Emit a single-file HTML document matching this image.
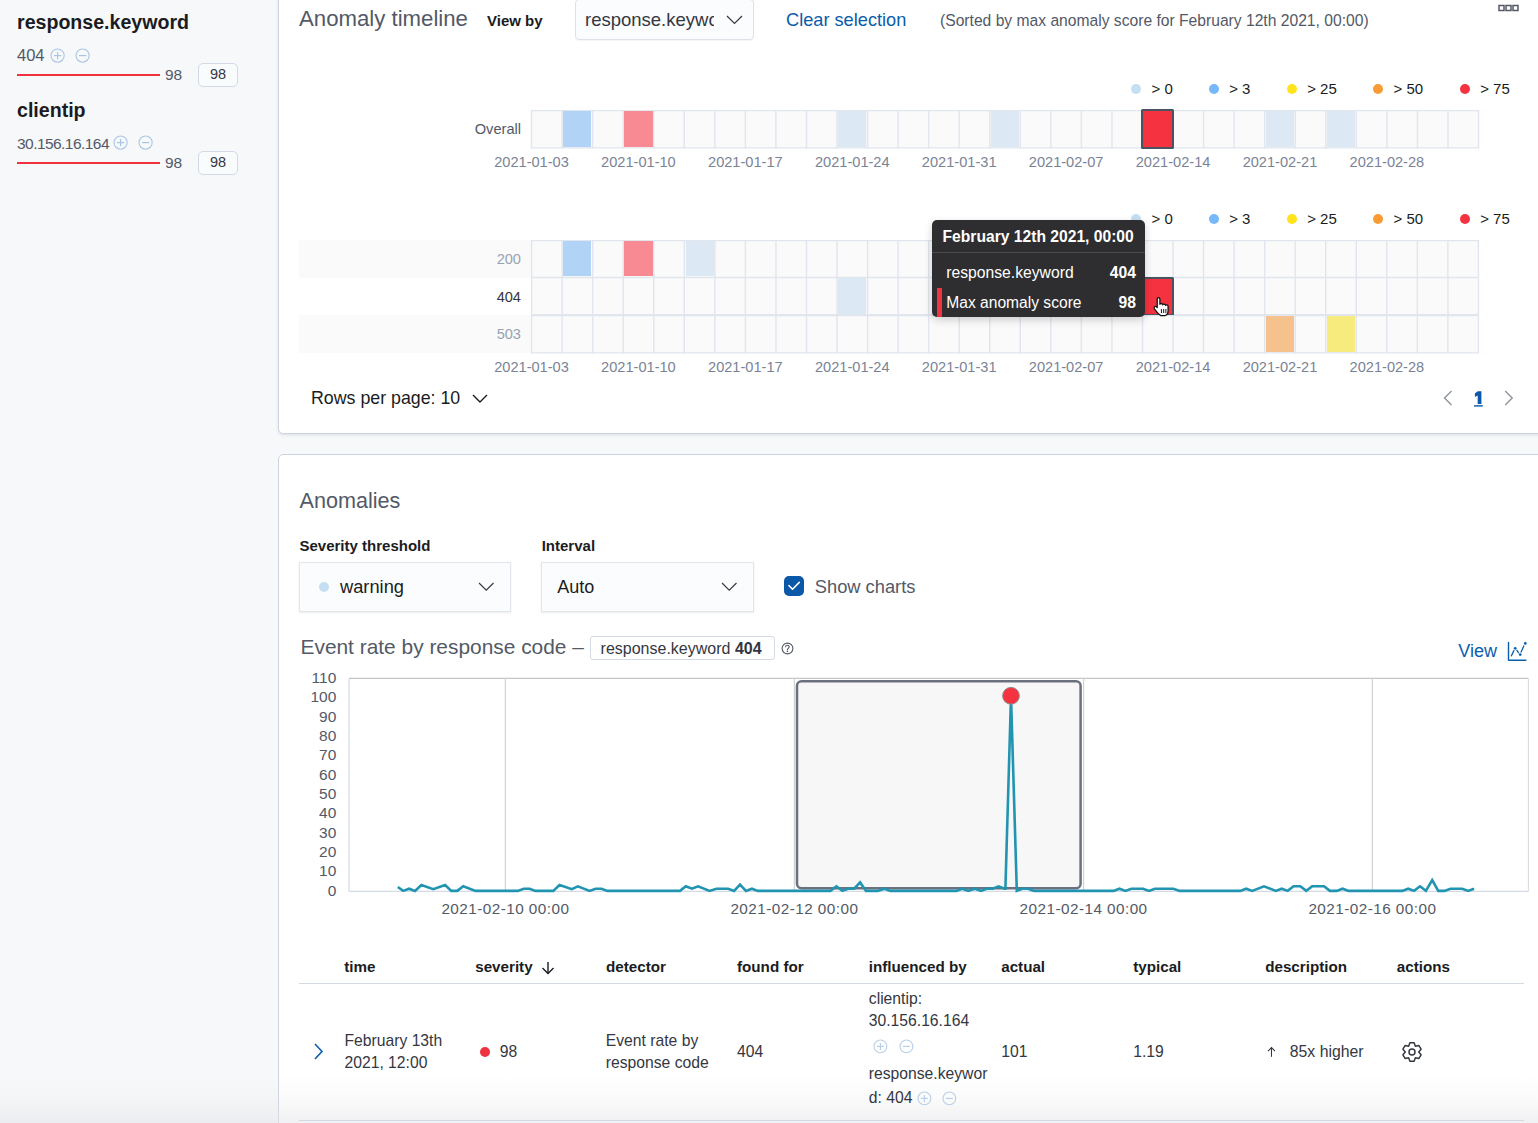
<!DOCTYPE html>
<html><head><meta charset="utf-8"><title>Anomaly Explorer</title>
<style>
html,body{margin:0;padding:0;width:1538px;height:1123px;overflow:hidden;background:#F7F8FA}
body{position:relative;font-family:"Liberation Sans", sans-serif}
.t{position:absolute;white-space:nowrap;line-height:1;font-family:"Liberation Sans", sans-serif}
.r{position:absolute}
svg.r{overflow:visible}
</style></head><body>
<div class="r" style="left:0px;top:0px;width:1538px;height:1123px;background:#F7F8FA;"></div>
<div class="r" style="left:278px;top:-10px;width:1300px;height:444px;background:#fff;border:1px solid #CDD4E1;border-radius:5px;box-shadow:0 1px 3px rgba(60,70,90,.14);box-sizing:border-box"></div>
<div class="r" style="left:278px;top:454px;width:1300px;height:720px;background:#fff;border:1px solid #CDD4E1;border-radius:5px;box-sizing:border-box"></div>
<div class="r" style="left:0px;top:1074px;width:1538px;height:49px;background:linear-gradient(to bottom, rgba(226,227,230,0) 0%, rgba(226,227,230,.12) 45%, rgba(226,227,230,.5) 100%);"></div>
<div class="t" style="left:17.00px;top:12.61px;font-size:19.6px;font-weight:700;color:#1A1C21;">response.keyword</div>
<div class="t" style="left:17.00px;top:47.33px;font-size:16.5px;font-weight:400;color:#535966;">404</div>
<svg class="r" style="left:49.699999999999996px;top:47.699999999999996px;" width="15.2" height="15.2" viewBox="0 0 15.2 15.2"><circle cx="7.6" cy="7.6" r="6.6" fill="none" stroke="#A9C5E6" stroke-width="1.1"/><line x1="3.9699999999999998" y1="7.6" x2="11.23" y2="7.6" stroke="#A9C5E6" stroke-width="1.2"/><line x1="7.6" y1="3.9699999999999998" x2="7.6" y2="11.23" stroke="#A9C5E6" stroke-width="1.2"/></svg>
<svg class="r" style="left:74.7px;top:47.699999999999996px;" width="15.2" height="15.2" viewBox="0 0 15.2 15.2"><circle cx="7.6" cy="7.6" r="6.6" fill="none" stroke="#A9C5E6" stroke-width="1.1"/><line x1="3.9699999999999998" y1="7.6" x2="11.23" y2="7.6" stroke="#A9C5E6" stroke-width="1.2"/></svg>
<div class="r" style="left:17px;top:74px;width:143px;height:2px;background:#F0323E;"></div>
<div class="t" style="left:165.00px;top:67.38px;font-size:15.5px;font-weight:400;color:#535966;">98</div>
<div class="r" style="left:198px;top:63px;width:40px;height:24px;border:1px solid #D3DAE6;border-radius:5px;box-sizing:border-box;background:#FAFBFD"></div>
<div class="t" style="left:218.00px;top:67.33px;font-size:14.5px;font-weight:400;color:#343741;transform:translateX(-50%);">98</div>
<div class="t" style="left:17.00px;top:100.61px;font-size:19.6px;font-weight:700;color:#1A1C21;">clientip</div>
<div class="t" style="left:17.00px;top:136.18px;font-size:15.5px;font-weight:400;color:#535966;letter-spacing:-0.55px;">30.156.16.164</div>
<svg class="r" style="left:113.4px;top:135.4px;" width="15.2" height="15.2" viewBox="0 0 15.2 15.2"><circle cx="7.6" cy="7.6" r="6.6" fill="none" stroke="#A9C5E6" stroke-width="1.1"/><line x1="3.9699999999999998" y1="7.6" x2="11.23" y2="7.6" stroke="#A9C5E6" stroke-width="1.2"/><line x1="7.6" y1="3.9699999999999998" x2="7.6" y2="11.23" stroke="#A9C5E6" stroke-width="1.2"/></svg>
<svg class="r" style="left:138.4px;top:135.4px;" width="15.2" height="15.2" viewBox="0 0 15.2 15.2"><circle cx="7.6" cy="7.6" r="6.6" fill="none" stroke="#A9C5E6" stroke-width="1.1"/><line x1="3.9699999999999998" y1="7.6" x2="11.23" y2="7.6" stroke="#A9C5E6" stroke-width="1.2"/></svg>
<div class="r" style="left:17px;top:162px;width:143px;height:2px;background:#F0323E;"></div>
<div class="t" style="left:165.00px;top:155.38px;font-size:15.5px;font-weight:400;color:#535966;">98</div>
<div class="r" style="left:198px;top:151px;width:40px;height:24px;border:1px solid #D3DAE6;border-radius:5px;box-sizing:border-box;background:#FAFBFD"></div>
<div class="t" style="left:218.00px;top:155.33px;font-size:14.5px;font-weight:400;color:#343741;transform:translateX(-50%);">98</div>
<div class="t" style="left:299.00px;top:8.21px;font-size:22.2px;font-weight:400;color:#535966;">Anomaly timeline</div>
<div class="t" style="left:487.00px;top:12.80px;font-size:15px;font-weight:700;color:#1A1C21;">View by</div>
<div class="r" style="left:575px;top:-1px;width:179px;height:41px;border:1px solid #DDE2EA;border-radius:4px;box-sizing:border-box;background:#FBFCFD;box-shadow:0 1px 1px rgba(0,0,0,.04)"></div>
<div class="r" style="left:585px;top:0px;width:129px;height:38px;overflow:hidden">
<div class="t" style="left:0.00px;top:10.64px;font-size:18.5px;font-weight:400;color:#343741;">response.keyword</div>
</div>
<svg class="r" style="left:725.5px;top:14.850000000000001px;" width="17" height="9.5" viewBox="0 0 17 9.5"><polyline points="1,1 8.5,8.5 16,1" fill="none" stroke="#343741" stroke-width="1.2"/></svg>
<div class="t" style="left:786.00px;top:10.59px;font-size:18.2px;font-weight:400;color:#0A5CAB;">Clear selection</div>
<div class="t" style="left:940.00px;top:12.75px;font-size:15.65px;font-weight:400;color:#535966;">(Sorted by max anomaly score for February 12th 2021, 00:00)</div>
<svg class="r" style="left:1497px;top:3px;" width="24" height="10" viewBox="0 0 24 10"><rect x="2" y="2.5" width="5" height="5" fill="none" stroke="#535966" stroke-width="1.5"/><rect x="9" y="2.5" width="5" height="5" fill="none" stroke="#535966" stroke-width="1.5"/><rect x="16" y="2.5" width="5" height="5" fill="none" stroke="#535966" stroke-width="1.5"/></svg>
<div class="r" style="left:1131.0px;top:84px;width:10px;height:10px;border-radius:50%;background:#C5DFF2"></div>
<div class="t" style="left:1151.50px;top:81.00px;font-size:15px;font-weight:400;color:#1A1C21;">&gt; 0</div>
<div class="r" style="left:1208.7px;top:84px;width:10px;height:10px;border-radius:50%;background:#76B8F8"></div>
<div class="t" style="left:1229.20px;top:81.00px;font-size:15px;font-weight:400;color:#1A1C21;">&gt; 3</div>
<div class="r" style="left:1286.7px;top:84px;width:10px;height:10px;border-radius:50%;background:#FFE31C"></div>
<div class="t" style="left:1307.20px;top:81.00px;font-size:15px;font-weight:400;color:#1A1C21;">&gt; 25</div>
<div class="r" style="left:1373.0px;top:84px;width:10px;height:10px;border-radius:50%;background:#F89B34"></div>
<div class="t" style="left:1393.50px;top:81.00px;font-size:15px;font-weight:400;color:#1A1C21;">&gt; 50</div>
<div class="r" style="left:1459.7px;top:84px;width:10px;height:10px;border-radius:50%;background:#F5323F"></div>
<div class="t" style="left:1480.20px;top:81.00px;font-size:15px;font-weight:400;color:#1A1C21;">&gt; 75</div>
<div class="r" style="left:1131.0px;top:214px;width:10px;height:10px;border-radius:50%;background:#C5DFF2"></div>
<div class="t" style="left:1151.50px;top:211.00px;font-size:15px;font-weight:400;color:#1A1C21;">&gt; 0</div>
<div class="r" style="left:1208.7px;top:214px;width:10px;height:10px;border-radius:50%;background:#76B8F8"></div>
<div class="t" style="left:1229.20px;top:211.00px;font-size:15px;font-weight:400;color:#1A1C21;">&gt; 3</div>
<div class="r" style="left:1286.7px;top:214px;width:10px;height:10px;border-radius:50%;background:#FFE31C"></div>
<div class="t" style="left:1307.20px;top:211.00px;font-size:15px;font-weight:400;color:#1A1C21;">&gt; 25</div>
<div class="r" style="left:1373.0px;top:214px;width:10px;height:10px;border-radius:50%;background:#F89B34"></div>
<div class="t" style="left:1393.50px;top:211.00px;font-size:15px;font-weight:400;color:#1A1C21;">&gt; 50</div>
<div class="r" style="left:1459.7px;top:214px;width:10px;height:10px;border-radius:50%;background:#F5323F"></div>
<div class="t" style="left:1480.20px;top:211.00px;font-size:15px;font-weight:400;color:#1A1C21;">&gt; 75</div>
<div class="r" style="left:531.5px;top:109.85px;width:947.1px;height:38.5px;background:#FAFAFA;"></div>
<svg class="r" style="left:531.0px;top:109.85px;" width="949" height="38.5" viewBox="0 0 949 38.5"><line x1="0.50" y1="0" x2="0.50" y2="38.5" stroke="#E0E5EE" stroke-width="1.4"/><line x1="31.05" y1="0" x2="31.05" y2="38.5" stroke="#E0E5EE" stroke-width="1.4"/><line x1="61.60" y1="0" x2="61.60" y2="38.5" stroke="#E0E5EE" stroke-width="1.4"/><line x1="92.15" y1="0" x2="92.15" y2="38.5" stroke="#E0E5EE" stroke-width="1.4"/><line x1="122.70" y1="0" x2="122.70" y2="38.5" stroke="#E0E5EE" stroke-width="1.4"/><line x1="153.25" y1="0" x2="153.25" y2="38.5" stroke="#E0E5EE" stroke-width="1.4"/><line x1="183.80" y1="0" x2="183.80" y2="38.5" stroke="#E0E5EE" stroke-width="1.4"/><line x1="214.35" y1="0" x2="214.35" y2="38.5" stroke="#E0E5EE" stroke-width="1.4"/><line x1="244.90" y1="0" x2="244.90" y2="38.5" stroke="#E0E5EE" stroke-width="1.4"/><line x1="275.45" y1="0" x2="275.45" y2="38.5" stroke="#E0E5EE" stroke-width="1.4"/><line x1="306.00" y1="0" x2="306.00" y2="38.5" stroke="#E0E5EE" stroke-width="1.4"/><line x1="336.55" y1="0" x2="336.55" y2="38.5" stroke="#E0E5EE" stroke-width="1.4"/><line x1="367.10" y1="0" x2="367.10" y2="38.5" stroke="#E0E5EE" stroke-width="1.4"/><line x1="397.65" y1="0" x2="397.65" y2="38.5" stroke="#E0E5EE" stroke-width="1.4"/><line x1="428.20" y1="0" x2="428.20" y2="38.5" stroke="#E0E5EE" stroke-width="1.4"/><line x1="458.75" y1="0" x2="458.75" y2="38.5" stroke="#E0E5EE" stroke-width="1.4"/><line x1="489.30" y1="0" x2="489.30" y2="38.5" stroke="#E0E5EE" stroke-width="1.4"/><line x1="519.85" y1="0" x2="519.85" y2="38.5" stroke="#E0E5EE" stroke-width="1.4"/><line x1="550.40" y1="0" x2="550.40" y2="38.5" stroke="#E0E5EE" stroke-width="1.4"/><line x1="580.95" y1="0" x2="580.95" y2="38.5" stroke="#E0E5EE" stroke-width="1.4"/><line x1="611.50" y1="0" x2="611.50" y2="38.5" stroke="#E0E5EE" stroke-width="1.4"/><line x1="642.05" y1="0" x2="642.05" y2="38.5" stroke="#E0E5EE" stroke-width="1.4"/><line x1="672.60" y1="0" x2="672.60" y2="38.5" stroke="#E0E5EE" stroke-width="1.4"/><line x1="703.15" y1="0" x2="703.15" y2="38.5" stroke="#E0E5EE" stroke-width="1.4"/><line x1="733.70" y1="0" x2="733.70" y2="38.5" stroke="#E0E5EE" stroke-width="1.4"/><line x1="764.25" y1="0" x2="764.25" y2="38.5" stroke="#E0E5EE" stroke-width="1.4"/><line x1="794.80" y1="0" x2="794.80" y2="38.5" stroke="#E0E5EE" stroke-width="1.4"/><line x1="825.35" y1="0" x2="825.35" y2="38.5" stroke="#E0E5EE" stroke-width="1.4"/><line x1="855.90" y1="0" x2="855.90" y2="38.5" stroke="#E0E5EE" stroke-width="1.4"/><line x1="886.45" y1="0" x2="886.45" y2="38.5" stroke="#E0E5EE" stroke-width="1.4"/><line x1="917.00" y1="0" x2="917.00" y2="38.5" stroke="#E0E5EE" stroke-width="1.4"/><line x1="947.55" y1="0" x2="947.55" y2="38.5" stroke="#E0E5EE" stroke-width="1.4"/><line x1="0" y1="0.6" x2="948.0500000000001" y2="0.6" stroke="#E0E5EE" stroke-width="1.2"/><line x1="0" y1="37.9" x2="948.0500000000001" y2="37.9" stroke="#E0E5EE" stroke-width="1.2"/></svg>
<div class="r" style="left:563.3px;top:111.14999999999999px;width:28.2px;height:35.9px;background:#B0D3F6;"></div>
<div class="r" style="left:624.4px;top:111.14999999999999px;width:28.2px;height:35.9px;background:#F78A92;"></div>
<div class="r" style="left:838.3px;top:111.14999999999999px;width:28.2px;height:35.9px;background:#DCE9F5;"></div>
<div class="r" style="left:991.0px;top:111.14999999999999px;width:28.2px;height:35.9px;background:#DCE9F5;"></div>
<div class="r" style="left:1266.0px;top:111.14999999999999px;width:28.2px;height:35.9px;background:#DCE9F5;"></div>
<div class="r" style="left:1327.1px;top:111.14999999999999px;width:28.2px;height:35.9px;background:#DCE9F5;"></div>
<div class="r" style="left:1140.9px;top:109.3px;width:32.8px;height:40.1px;background:#F5323F;border:2.2px solid #4B5260;box-sizing:border-box;border-radius:1.5px"></div>
<div class="t" style="left:521.00px;top:121.94px;font-size:14.6px;font-weight:400;color:#535966;transform:translateX(-100%);">Overall</div>
<div class="t" style="left:531.50px;top:155.34px;font-size:14.6px;font-weight:400;color:#7A8395;transform:translateX(-50%);">2021-01-03</div>
<div class="t" style="left:638.42px;top:155.34px;font-size:14.6px;font-weight:400;color:#7A8395;transform:translateX(-50%);">2021-01-10</div>
<div class="t" style="left:745.35px;top:155.34px;font-size:14.6px;font-weight:400;color:#7A8395;transform:translateX(-50%);">2021-01-17</div>
<div class="t" style="left:852.28px;top:155.34px;font-size:14.6px;font-weight:400;color:#7A8395;transform:translateX(-50%);">2021-01-24</div>
<div class="t" style="left:959.20px;top:155.34px;font-size:14.6px;font-weight:400;color:#7A8395;transform:translateX(-50%);">2021-01-31</div>
<div class="t" style="left:1066.12px;top:155.34px;font-size:14.6px;font-weight:400;color:#7A8395;transform:translateX(-50%);">2021-02-07</div>
<div class="t" style="left:1173.05px;top:155.34px;font-size:14.6px;font-weight:400;color:#7A8395;transform:translateX(-50%);">2021-02-14</div>
<div class="t" style="left:1279.97px;top:155.34px;font-size:14.6px;font-weight:400;color:#7A8395;transform:translateX(-50%);">2021-02-21</div>
<div class="t" style="left:1386.90px;top:155.34px;font-size:14.6px;font-weight:400;color:#7A8395;transform:translateX(-50%);">2021-02-28</div>
<div class="r" style="left:299px;top:240px;width:232px;height:37.5px;background:#FAFAFA;"></div>
<div class="r" style="left:299px;top:315px;width:232px;height:37.5px;background:#FAFAFA;"></div>
<div class="r" style="left:531.5px;top:239.8px;width:947.1px;height:37.9px;background:#FAFAFA;"></div>
<svg class="r" style="left:531.0px;top:239.8px;" width="949" height="37.9" viewBox="0 0 949 37.9"><line x1="0.50" y1="0" x2="0.50" y2="37.9" stroke="#E0E5EE" stroke-width="1.4"/><line x1="31.05" y1="0" x2="31.05" y2="37.9" stroke="#E0E5EE" stroke-width="1.4"/><line x1="61.60" y1="0" x2="61.60" y2="37.9" stroke="#E0E5EE" stroke-width="1.4"/><line x1="92.15" y1="0" x2="92.15" y2="37.9" stroke="#E0E5EE" stroke-width="1.4"/><line x1="122.70" y1="0" x2="122.70" y2="37.9" stroke="#E0E5EE" stroke-width="1.4"/><line x1="153.25" y1="0" x2="153.25" y2="37.9" stroke="#E0E5EE" stroke-width="1.4"/><line x1="183.80" y1="0" x2="183.80" y2="37.9" stroke="#E0E5EE" stroke-width="1.4"/><line x1="214.35" y1="0" x2="214.35" y2="37.9" stroke="#E0E5EE" stroke-width="1.4"/><line x1="244.90" y1="0" x2="244.90" y2="37.9" stroke="#E0E5EE" stroke-width="1.4"/><line x1="275.45" y1="0" x2="275.45" y2="37.9" stroke="#E0E5EE" stroke-width="1.4"/><line x1="306.00" y1="0" x2="306.00" y2="37.9" stroke="#E0E5EE" stroke-width="1.4"/><line x1="336.55" y1="0" x2="336.55" y2="37.9" stroke="#E0E5EE" stroke-width="1.4"/><line x1="367.10" y1="0" x2="367.10" y2="37.9" stroke="#E0E5EE" stroke-width="1.4"/><line x1="397.65" y1="0" x2="397.65" y2="37.9" stroke="#E0E5EE" stroke-width="1.4"/><line x1="428.20" y1="0" x2="428.20" y2="37.9" stroke="#E0E5EE" stroke-width="1.4"/><line x1="458.75" y1="0" x2="458.75" y2="37.9" stroke="#E0E5EE" stroke-width="1.4"/><line x1="489.30" y1="0" x2="489.30" y2="37.9" stroke="#E0E5EE" stroke-width="1.4"/><line x1="519.85" y1="0" x2="519.85" y2="37.9" stroke="#E0E5EE" stroke-width="1.4"/><line x1="550.40" y1="0" x2="550.40" y2="37.9" stroke="#E0E5EE" stroke-width="1.4"/><line x1="580.95" y1="0" x2="580.95" y2="37.9" stroke="#E0E5EE" stroke-width="1.4"/><line x1="611.50" y1="0" x2="611.50" y2="37.9" stroke="#E0E5EE" stroke-width="1.4"/><line x1="642.05" y1="0" x2="642.05" y2="37.9" stroke="#E0E5EE" stroke-width="1.4"/><line x1="672.60" y1="0" x2="672.60" y2="37.9" stroke="#E0E5EE" stroke-width="1.4"/><line x1="703.15" y1="0" x2="703.15" y2="37.9" stroke="#E0E5EE" stroke-width="1.4"/><line x1="733.70" y1="0" x2="733.70" y2="37.9" stroke="#E0E5EE" stroke-width="1.4"/><line x1="764.25" y1="0" x2="764.25" y2="37.9" stroke="#E0E5EE" stroke-width="1.4"/><line x1="794.80" y1="0" x2="794.80" y2="37.9" stroke="#E0E5EE" stroke-width="1.4"/><line x1="825.35" y1="0" x2="825.35" y2="37.9" stroke="#E0E5EE" stroke-width="1.4"/><line x1="855.90" y1="0" x2="855.90" y2="37.9" stroke="#E0E5EE" stroke-width="1.4"/><line x1="886.45" y1="0" x2="886.45" y2="37.9" stroke="#E0E5EE" stroke-width="1.4"/><line x1="917.00" y1="0" x2="917.00" y2="37.9" stroke="#E0E5EE" stroke-width="1.4"/><line x1="947.55" y1="0" x2="947.55" y2="37.9" stroke="#E0E5EE" stroke-width="1.4"/><line x1="0" y1="0.6" x2="948.0500000000001" y2="0.6" stroke="#E0E5EE" stroke-width="1.2"/><line x1="0" y1="37.3" x2="948.0500000000001" y2="37.3" stroke="#E0E5EE" stroke-width="1.2"/></svg>
<div class="r" style="left:563.3px;top:241.10000000000002px;width:28.2px;height:35.3px;background:#B0D3F6;"></div>
<div class="r" style="left:624.4px;top:241.10000000000002px;width:28.2px;height:35.3px;background:#F78A92;"></div>
<div class="r" style="left:685.5px;top:241.10000000000002px;width:28.2px;height:35.3px;background:#DCE9F5;"></div>
<div class="r" style="left:531.5px;top:277.1px;width:947.1px;height:38.1px;background:#FAFAFA;"></div>
<svg class="r" style="left:531.0px;top:277.1px;" width="949" height="38.1" viewBox="0 0 949 38.1"><line x1="0.50" y1="0" x2="0.50" y2="38.1" stroke="#E0E5EE" stroke-width="1.4"/><line x1="31.05" y1="0" x2="31.05" y2="38.1" stroke="#E0E5EE" stroke-width="1.4"/><line x1="61.60" y1="0" x2="61.60" y2="38.1" stroke="#E0E5EE" stroke-width="1.4"/><line x1="92.15" y1="0" x2="92.15" y2="38.1" stroke="#E0E5EE" stroke-width="1.4"/><line x1="122.70" y1="0" x2="122.70" y2="38.1" stroke="#E0E5EE" stroke-width="1.4"/><line x1="153.25" y1="0" x2="153.25" y2="38.1" stroke="#E0E5EE" stroke-width="1.4"/><line x1="183.80" y1="0" x2="183.80" y2="38.1" stroke="#E0E5EE" stroke-width="1.4"/><line x1="214.35" y1="0" x2="214.35" y2="38.1" stroke="#E0E5EE" stroke-width="1.4"/><line x1="244.90" y1="0" x2="244.90" y2="38.1" stroke="#E0E5EE" stroke-width="1.4"/><line x1="275.45" y1="0" x2="275.45" y2="38.1" stroke="#E0E5EE" stroke-width="1.4"/><line x1="306.00" y1="0" x2="306.00" y2="38.1" stroke="#E0E5EE" stroke-width="1.4"/><line x1="336.55" y1="0" x2="336.55" y2="38.1" stroke="#E0E5EE" stroke-width="1.4"/><line x1="367.10" y1="0" x2="367.10" y2="38.1" stroke="#E0E5EE" stroke-width="1.4"/><line x1="397.65" y1="0" x2="397.65" y2="38.1" stroke="#E0E5EE" stroke-width="1.4"/><line x1="428.20" y1="0" x2="428.20" y2="38.1" stroke="#E0E5EE" stroke-width="1.4"/><line x1="458.75" y1="0" x2="458.75" y2="38.1" stroke="#E0E5EE" stroke-width="1.4"/><line x1="489.30" y1="0" x2="489.30" y2="38.1" stroke="#E0E5EE" stroke-width="1.4"/><line x1="519.85" y1="0" x2="519.85" y2="38.1" stroke="#E0E5EE" stroke-width="1.4"/><line x1="550.40" y1="0" x2="550.40" y2="38.1" stroke="#E0E5EE" stroke-width="1.4"/><line x1="580.95" y1="0" x2="580.95" y2="38.1" stroke="#E0E5EE" stroke-width="1.4"/><line x1="611.50" y1="0" x2="611.50" y2="38.1" stroke="#E0E5EE" stroke-width="1.4"/><line x1="642.05" y1="0" x2="642.05" y2="38.1" stroke="#E0E5EE" stroke-width="1.4"/><line x1="672.60" y1="0" x2="672.60" y2="38.1" stroke="#E0E5EE" stroke-width="1.4"/><line x1="703.15" y1="0" x2="703.15" y2="38.1" stroke="#E0E5EE" stroke-width="1.4"/><line x1="733.70" y1="0" x2="733.70" y2="38.1" stroke="#E0E5EE" stroke-width="1.4"/><line x1="764.25" y1="0" x2="764.25" y2="38.1" stroke="#E0E5EE" stroke-width="1.4"/><line x1="794.80" y1="0" x2="794.80" y2="38.1" stroke="#E0E5EE" stroke-width="1.4"/><line x1="825.35" y1="0" x2="825.35" y2="38.1" stroke="#E0E5EE" stroke-width="1.4"/><line x1="855.90" y1="0" x2="855.90" y2="38.1" stroke="#E0E5EE" stroke-width="1.4"/><line x1="886.45" y1="0" x2="886.45" y2="38.1" stroke="#E0E5EE" stroke-width="1.4"/><line x1="917.00" y1="0" x2="917.00" y2="38.1" stroke="#E0E5EE" stroke-width="1.4"/><line x1="947.55" y1="0" x2="947.55" y2="38.1" stroke="#E0E5EE" stroke-width="1.4"/><line x1="0" y1="0.6" x2="948.0500000000001" y2="0.6" stroke="#E0E5EE" stroke-width="1.2"/><line x1="0" y1="37.5" x2="948.0500000000001" y2="37.5" stroke="#E0E5EE" stroke-width="1.2"/></svg>
<div class="r" style="left:838.3px;top:278.40000000000003px;width:28.2px;height:35.5px;background:#DCE9F5;"></div>
<div class="r" style="left:1140.9px;top:276.6px;width:32.8px;height:39.7px;background:#F5323F;border:2.2px solid #4B5260;box-sizing:border-box;border-radius:1.5px"></div>
<div class="r" style="left:531.5px;top:314.9px;width:947.1px;height:38.4px;background:#FAFAFA;"></div>
<svg class="r" style="left:531.0px;top:314.9px;" width="949" height="38.4" viewBox="0 0 949 38.4"><line x1="0.50" y1="0" x2="0.50" y2="38.4" stroke="#E0E5EE" stroke-width="1.4"/><line x1="31.05" y1="0" x2="31.05" y2="38.4" stroke="#E0E5EE" stroke-width="1.4"/><line x1="61.60" y1="0" x2="61.60" y2="38.4" stroke="#E0E5EE" stroke-width="1.4"/><line x1="92.15" y1="0" x2="92.15" y2="38.4" stroke="#E0E5EE" stroke-width="1.4"/><line x1="122.70" y1="0" x2="122.70" y2="38.4" stroke="#E0E5EE" stroke-width="1.4"/><line x1="153.25" y1="0" x2="153.25" y2="38.4" stroke="#E0E5EE" stroke-width="1.4"/><line x1="183.80" y1="0" x2="183.80" y2="38.4" stroke="#E0E5EE" stroke-width="1.4"/><line x1="214.35" y1="0" x2="214.35" y2="38.4" stroke="#E0E5EE" stroke-width="1.4"/><line x1="244.90" y1="0" x2="244.90" y2="38.4" stroke="#E0E5EE" stroke-width="1.4"/><line x1="275.45" y1="0" x2="275.45" y2="38.4" stroke="#E0E5EE" stroke-width="1.4"/><line x1="306.00" y1="0" x2="306.00" y2="38.4" stroke="#E0E5EE" stroke-width="1.4"/><line x1="336.55" y1="0" x2="336.55" y2="38.4" stroke="#E0E5EE" stroke-width="1.4"/><line x1="367.10" y1="0" x2="367.10" y2="38.4" stroke="#E0E5EE" stroke-width="1.4"/><line x1="397.65" y1="0" x2="397.65" y2="38.4" stroke="#E0E5EE" stroke-width="1.4"/><line x1="428.20" y1="0" x2="428.20" y2="38.4" stroke="#E0E5EE" stroke-width="1.4"/><line x1="458.75" y1="0" x2="458.75" y2="38.4" stroke="#E0E5EE" stroke-width="1.4"/><line x1="489.30" y1="0" x2="489.30" y2="38.4" stroke="#E0E5EE" stroke-width="1.4"/><line x1="519.85" y1="0" x2="519.85" y2="38.4" stroke="#E0E5EE" stroke-width="1.4"/><line x1="550.40" y1="0" x2="550.40" y2="38.4" stroke="#E0E5EE" stroke-width="1.4"/><line x1="580.95" y1="0" x2="580.95" y2="38.4" stroke="#E0E5EE" stroke-width="1.4"/><line x1="611.50" y1="0" x2="611.50" y2="38.4" stroke="#E0E5EE" stroke-width="1.4"/><line x1="642.05" y1="0" x2="642.05" y2="38.4" stroke="#E0E5EE" stroke-width="1.4"/><line x1="672.60" y1="0" x2="672.60" y2="38.4" stroke="#E0E5EE" stroke-width="1.4"/><line x1="703.15" y1="0" x2="703.15" y2="38.4" stroke="#E0E5EE" stroke-width="1.4"/><line x1="733.70" y1="0" x2="733.70" y2="38.4" stroke="#E0E5EE" stroke-width="1.4"/><line x1="764.25" y1="0" x2="764.25" y2="38.4" stroke="#E0E5EE" stroke-width="1.4"/><line x1="794.80" y1="0" x2="794.80" y2="38.4" stroke="#E0E5EE" stroke-width="1.4"/><line x1="825.35" y1="0" x2="825.35" y2="38.4" stroke="#E0E5EE" stroke-width="1.4"/><line x1="855.90" y1="0" x2="855.90" y2="38.4" stroke="#E0E5EE" stroke-width="1.4"/><line x1="886.45" y1="0" x2="886.45" y2="38.4" stroke="#E0E5EE" stroke-width="1.4"/><line x1="917.00" y1="0" x2="917.00" y2="38.4" stroke="#E0E5EE" stroke-width="1.4"/><line x1="947.55" y1="0" x2="947.55" y2="38.4" stroke="#E0E5EE" stroke-width="1.4"/><line x1="0" y1="0.6" x2="948.0500000000001" y2="0.6" stroke="#E0E5EE" stroke-width="1.2"/><line x1="0" y1="37.8" x2="948.0500000000001" y2="37.8" stroke="#E0E5EE" stroke-width="1.2"/></svg>
<div class="r" style="left:1266.0px;top:316.2px;width:28.2px;height:35.8px;background:#F5C18C;"></div>
<div class="r" style="left:1327.1px;top:316.2px;width:28.2px;height:35.8px;background:#F8EB7E;"></div>
<div class="t" style="left:521.00px;top:252.14px;font-size:14.6px;font-weight:400;color:#98A2B3;transform:translateX(-100%);">200</div>
<div class="t" style="left:521.00px;top:289.64px;font-size:14.6px;font-weight:400;color:#343741;transform:translateX(-100%);">404</div>
<div class="t" style="left:521.00px;top:327.14px;font-size:14.6px;font-weight:400;color:#98A2B3;transform:translateX(-100%);">503</div>
<div class="t" style="left:531.50px;top:360.24px;font-size:14.6px;font-weight:400;color:#7A8395;transform:translateX(-50%);">2021-01-03</div>
<div class="t" style="left:638.42px;top:360.24px;font-size:14.6px;font-weight:400;color:#7A8395;transform:translateX(-50%);">2021-01-10</div>
<div class="t" style="left:745.35px;top:360.24px;font-size:14.6px;font-weight:400;color:#7A8395;transform:translateX(-50%);">2021-01-17</div>
<div class="t" style="left:852.28px;top:360.24px;font-size:14.6px;font-weight:400;color:#7A8395;transform:translateX(-50%);">2021-01-24</div>
<div class="t" style="left:959.20px;top:360.24px;font-size:14.6px;font-weight:400;color:#7A8395;transform:translateX(-50%);">2021-01-31</div>
<div class="t" style="left:1066.12px;top:360.24px;font-size:14.6px;font-weight:400;color:#7A8395;transform:translateX(-50%);">2021-02-07</div>
<div class="t" style="left:1173.05px;top:360.24px;font-size:14.6px;font-weight:400;color:#7A8395;transform:translateX(-50%);">2021-02-14</div>
<div class="t" style="left:1279.97px;top:360.24px;font-size:14.6px;font-weight:400;color:#7A8395;transform:translateX(-50%);">2021-02-21</div>
<div class="t" style="left:1386.90px;top:360.24px;font-size:14.6px;font-weight:400;color:#7A8395;transform:translateX(-50%);">2021-02-28</div>
<div class="t" style="left:311.00px;top:389.73px;font-size:17.8px;font-weight:400;color:#1A1C21;">Rows per page: 10</div>
<svg class="r" style="left:472.0px;top:393.5px;" width="16" height="9" viewBox="0 0 16 9"><polyline points="1,1 8.0,8 15,1" fill="none" stroke="#1A1C21" stroke-width="1.4"/></svg>
<svg class="r" style="left:1441px;top:389px;" width="14" height="18" viewBox="0 0 14 18"><polyline points="10.5,2 3.5,9 10.5,16" fill="none" stroke="#8F949D" stroke-width="1.4"/></svg>
<svg class="r" style="left:0;top:0" width="1538" height="1123"><path d="M1477.7,391.2 L1481.4,391.2 L1481.4,404 L1477.7,404 L1477.7,395.4 L1474.9,397.1 L1474.9,393.5 Z" fill="#0B57A8"/><rect x="1474" y="405.2" width="8.8" height="1.4" fill="#0B57A8"/></svg>
<svg class="r" style="left:1502px;top:389px;" width="14" height="18" viewBox="0 0 14 18"><polyline points="3.2,2 10.2,9 3.2,16" fill="none" stroke="#8F949D" stroke-width="1.4"/></svg>
<div class="r" style="left:932px;top:220px;width:213px;height:97px;background:#2E2E30;border-radius:5px;box-shadow:0 3px 8px rgba(0,0,0,.18);overflow:hidden"><div class="r" style="left:0;top:31.5px;width:213px;height:1px;background:#4A4A4E"></div><div class="r" style="left:5px;top:68px;width:5px;height:29px;background:#F5323F"></div></div>
<div class="t" style="left:942.50px;top:229.05px;font-size:15.65px;font-weight:700;color:#FFFFFF;">February 12th 2021, 00:00</div>
<div class="t" style="left:946.30px;top:265.11px;font-size:15.7px;font-weight:400;color:#FFFFFF;">response.keyword</div>
<div class="t" style="left:1136.00px;top:265.11px;font-size:15.7px;font-weight:700;color:#FFFFFF;transform:translateX(-100%);">404</div>
<div class="t" style="left:946.30px;top:294.99px;font-size:15.6px;font-weight:400;color:#FFFFFF;">Max anomaly score</div>
<div class="t" style="left:1136.00px;top:294.91px;font-size:15.7px;font-weight:700;color:#FFFFFF;transform:translateX(-100%);">98</div>
<svg class="r" style="left:1150px;top:294px;" width="22" height="22" viewBox="0 0 22 22"><g transform="translate(8.5 4) scale(1.17) translate(-8.5 -4)"><path d="M7.4,5 C7.4,3.3 9.7,3.3 9.7,5 L9.7,9.4 C10.1,8.5 12,8.6 12.1,9.8 C12.4,8.9 14.3,9 14.4,10.2 C14.9,9.5 16.7,9.8 16.7,11.3 L16.7,15 C16.7,17.1 15.6,18.8 14,19 L10.3,19 C9,18.1 6.2,14.9 5,13.2 C4.2,12 5.5,10.6 6.7,11.5 L7.4,12.1 Z" fill="#fff" stroke="#111" stroke-width="1.1" stroke-linejoin="round"/><g stroke="#222" stroke-width="0.9"><line x1="11" y1="13.4" x2="11" y2="16.8"/><line x1="12.9" y1="13.4" x2="12.9" y2="16.8"/><line x1="14.8" y1="13.4" x2="14.8" y2="16.8"/></g></g></svg>
<div class="t" style="left:299.50px;top:490.12px;font-size:21.6px;font-weight:400;color:#535966;">Anomalies</div>
<div class="t" style="left:299.50px;top:538.30px;font-size:15px;font-weight:700;color:#1A1C21;">Severity threshold</div>
<div class="t" style="left:541.70px;top:538.30px;font-size:15px;font-weight:700;color:#1A1C21;">Interval</div>
<div class="r" style="left:299px;top:562px;width:212px;height:49.5px;border:1px solid #E1E5EC;box-sizing:border-box;background:#FBFCFD;box-shadow:0 1px 2px rgba(60,70,90,.10)"></div>
<div class="r" style="left:541px;top:562px;width:213px;height:49.5px;border:1px solid #E1E5EC;box-sizing:border-box;background:#FBFCFD;box-shadow:0 1px 2px rgba(60,70,90,.10)"></div>
<div class="r" style="left:319px;top:582px;width:10px;height:10px;border-radius:50%;background:#C5DFF2"></div>
<div class="t" style="left:340.00px;top:578.11px;font-size:18.3px;font-weight:400;color:#1A1C21;">warning</div>
<svg class="r" style="left:477.75px;top:582.1999999999999px;" width="16.5" height="9.2" viewBox="0 0 16.5 9.2"><polyline points="1,1 8.25,8.2 15.5,1" fill="none" stroke="#343741" stroke-width="1.15"/></svg>
<div class="t" style="left:557.30px;top:577.96px;font-size:18px;font-weight:400;color:#1A1C21;">Auto</div>
<svg class="r" style="left:720.75px;top:582.1999999999999px;" width="16.5" height="9.2" viewBox="0 0 16.5 9.2"><polyline points="1,1 8.25,8.2 15.5,1" fill="none" stroke="#343741" stroke-width="1.15"/></svg>
<div class="r" style="left:784px;top:576.3px;width:19.5px;height:19.5px;border-radius:5px;background:#0B57A8"></div>
<svg class="r" style="left:784px;top:576px;" width="20" height="20" viewBox="0 0 20 20"><polyline points="4.9,9.5 8.5,13.2 15.3,6.4" fill="none" stroke="#fff" stroke-width="1.6" stroke-linecap="round" stroke-linejoin="round"/></svg>
<div class="t" style="left:814.80px;top:577.71px;font-size:18.3px;font-weight:400;color:#535966;">Show charts</div>
<div class="t" style="left:300.50px;top:636.81px;font-size:20.9px;font-weight:400;color:#535966;">Event rate by response code –</div>
<div class="r" style="left:589.5px;top:636.4px;width:185px;height:24px;border:1px solid #D3DAE6;border-radius:3px;box-sizing:border-box;background:#fff"></div>
<div class="t" style="left:600.60px;top:641.26px;font-size:16px;font-weight:400;color:#343741;">response.keyword <b>404</b></div>
<svg class="r" style="left:781px;top:642px;" width="13" height="13" viewBox="0 0 13 13"><circle cx="6.5" cy="6.5" r="5.4" fill="none" stroke="#535966" stroke-width="1.1"/><path d="M4.6,4.8 C4.7,3.7 5.5,3.2 6.4,3.2 C7.5,3.2 8.2,3.9 8.2,4.8 C8.2,5.9 6.6,6.2 6.5,7.6" fill="none" stroke="#535966" stroke-width="1.1" stroke-linecap="round"/><circle cx="6.4" cy="9.4" r=".8" fill="#535966"/></svg>
<div class="t" style="left:1497.00px;top:641.76px;font-size:18px;font-weight:400;color:#0B5CAD;transform:translateX(-100%);">View</div>
<svg class="r" style="left:1500px;top:636px;" width="32" height="28" viewBox="0 0 32 28"><polyline points="8.5,6.5 8.5,24.2 25.9,24.2" fill="none" stroke="#0B5CAD" stroke-width="1.4" stroke-linecap="round" stroke-linejoin="round"/><g stroke="#0B5CAD" stroke-width="1.3" stroke-linecap="round"><line x1="11.4" y1="19.8" x2="13.9" y2="14.6"/><line x1="16.9" y1="14.3" x2="18.5" y2="16.6"/><line x1="21.1" y1="16" x2="23.8" y2="10"/></g><g fill="#0B5CAD"><circle cx="15.2" cy="12.3" r="1.35"/><circle cx="20.2" cy="18.6" r="1.35"/><circle cx="25.3" cy="7.4" r="1.35"/></g></svg>
<svg class="r" style="left:0;top:0" width="1538" height="1123" viewBox="0 0 1538 1123"><line x1="349" y1="678.4" x2="1528.4" y2="678.4" stroke="#C6C6C6" stroke-width="1.3"/><line x1="349" y1="678.4" x2="349" y2="891.3" stroke="#D6DCE6" stroke-width="1.3"/><line x1="1528.4" y1="678.4" x2="1528.4" y2="891.3" stroke="#DADADA" stroke-width="1.1"/><line x1="349" y1="891.3" x2="1528.4" y2="891.3" stroke="#D3DAE6" stroke-width="1.3"/><line x1="505.4" y1="678.4" x2="505.4" y2="891.3" stroke="#D2D2D2" stroke-width="1.2"/><line x1="794.4" y1="678.4" x2="794.4" y2="891.3" stroke="#D2D2D2" stroke-width="1.2"/><line x1="1083.6" y1="678.4" x2="1083.6" y2="891.3" stroke="#D2D2D2" stroke-width="1.2"/><line x1="1372.4" y1="678.4" x2="1372.4" y2="891.3" stroke="#D2D2D2" stroke-width="1.2"/><rect x="797" y="681.3" width="283.6" height="206.9" rx="4.5" ry="4.5" fill="#F7F7F7" stroke="#6A707D" stroke-width="2.5"/><polyline points="397.8,887.0 403.2,890.9 409.1,888.7 415.0,890.9 421.4,885.0 433.3,889.2 445.1,885.0 451.3,890.9 457.3,890.9 463.2,886.3 475.5,890.9 517.8,890.9 523.7,888.7 529.6,888.7 535.5,890.9 553.3,890.9 559.5,885.0 571.9,889.2 577.8,886.3 589.6,890.9 595.5,888.7 601.5,888.7 607.4,890.9 680.0,890.9 685.9,886.3 691.9,888.7 698.1,886.3 709.6,890.9 716.4,888.7 728.2,888.7 734.1,890.9 740.0,884.6 746.0,890.9 751.9,888.7 757.8,890.9 830.5,890.9 836.4,886.3 842.3,890.9 848.2,888.7 854.2,888.7 860.1,882.4 866.0,890.9 877.8,890.9 884.5,888.7 890.4,890.9 956.4,890.9 962.3,888.7 968.2,890.9 975.0,888.7 980.9,890.9 986.8,888.7 992.7,888.7 998.6,886.3 1004.5,888.7 1005.4,888.7 1011.0,696.6 1016.8,890.9 1022.3,888.7 1028.2,888.7 1034.1,890.9 1113.6,890.9 1119.4,888.7 1125.4,890.9 1131.3,888.7 1143.1,888.7 1149.0,890.9 1154.9,888.7 1173.5,888.7 1179.5,890.9 1240.3,890.9 1246.2,888.7 1252.2,890.9 1264.0,886.3 1275.8,890.9 1281.7,888.7 1287.7,890.9 1293.6,886.3 1300.3,886.3 1306.3,890.9 1312.2,886.3 1324.0,886.3 1329.9,890.9 1336.7,890.9 1342.6,888.7 1348.5,890.9 1402.3,890.9 1408.2,888.7 1414.1,890.9 1420.0,886.3 1425.9,890.9 1432.2,880.2 1438.3,890.9 1444.5,890.9 1450.4,888.7 1462.3,888.7 1468.2,890.9 1474.1,888.7" fill="none" stroke="#2194B1" stroke-width="2.6" stroke-linejoin="miter"/><circle cx="1011" cy="695.8" r="8.4" fill="#F5323F" stroke="#8D8D8D" stroke-width="1"/></svg>
<div class="t" style="left:336.30px;top:882.78px;font-size:15.5px;font-weight:400;color:#535966;transform:translateX(-100%);">0</div>
<div class="t" style="left:336.30px;top:863.42px;font-size:15.5px;font-weight:400;color:#535966;transform:translateX(-100%);">10</div>
<div class="t" style="left:336.30px;top:844.07px;font-size:15.5px;font-weight:400;color:#535966;transform:translateX(-100%);">20</div>
<div class="t" style="left:336.30px;top:824.72px;font-size:15.5px;font-weight:400;color:#535966;transform:translateX(-100%);">30</div>
<div class="t" style="left:336.30px;top:805.36px;font-size:15.5px;font-weight:400;color:#535966;transform:translateX(-100%);">40</div>
<div class="t" style="left:336.30px;top:786.01px;font-size:15.5px;font-weight:400;color:#535966;transform:translateX(-100%);">50</div>
<div class="t" style="left:336.30px;top:766.65px;font-size:15.5px;font-weight:400;color:#535966;transform:translateX(-100%);">60</div>
<div class="t" style="left:336.30px;top:747.30px;font-size:15.5px;font-weight:400;color:#535966;transform:translateX(-100%);">70</div>
<div class="t" style="left:336.30px;top:727.94px;font-size:15.5px;font-weight:400;color:#535966;transform:translateX(-100%);">80</div>
<div class="t" style="left:336.30px;top:708.59px;font-size:15.5px;font-weight:400;color:#535966;transform:translateX(-100%);">90</div>
<div class="t" style="left:336.30px;top:689.23px;font-size:15.5px;font-weight:400;color:#535966;transform:translateX(-100%);">100</div>
<div class="t" style="left:336.30px;top:669.88px;font-size:15.5px;font-weight:400;color:#535966;transform:translateX(-100%);">110</div>
<div class="t" style="left:505.40px;top:901.05px;font-size:15.3px;font-weight:400;color:#535966;transform:translateX(-50%);letter-spacing:0.45px;">2021-02-10 00:00</div>
<div class="t" style="left:794.40px;top:901.05px;font-size:15.3px;font-weight:400;color:#535966;transform:translateX(-50%);letter-spacing:0.45px;">2021-02-12 00:00</div>
<div class="t" style="left:1083.60px;top:901.05px;font-size:15.3px;font-weight:400;color:#535966;transform:translateX(-50%);letter-spacing:0.45px;">2021-02-14 00:00</div>
<div class="t" style="left:1372.40px;top:901.05px;font-size:15.3px;font-weight:400;color:#535966;transform:translateX(-50%);letter-spacing:0.45px;">2021-02-16 00:00</div>
<div class="t" style="left:344.30px;top:958.53px;font-size:15.2px;font-weight:700;color:#1A1C21;">time</div>
<div class="t" style="left:475.20px;top:958.53px;font-size:15.2px;font-weight:700;color:#1A1C21;">severity</div>
<div class="t" style="left:606.00px;top:958.53px;font-size:15.2px;font-weight:700;color:#1A1C21;">detector</div>
<div class="t" style="left:737.00px;top:958.53px;font-size:15.2px;font-weight:700;color:#1A1C21;">found for</div>
<div class="t" style="left:868.80px;top:958.53px;font-size:15.2px;font-weight:700;color:#1A1C21;">influenced by</div>
<div class="t" style="left:1001.20px;top:958.53px;font-size:15.2px;font-weight:700;color:#1A1C21;">actual</div>
<div class="t" style="left:1133.20px;top:958.53px;font-size:15.2px;font-weight:700;color:#1A1C21;">typical</div>
<div class="t" style="left:1265.20px;top:958.53px;font-size:15.2px;font-weight:700;color:#1A1C21;">description</div>
<div class="t" style="left:1396.80px;top:958.53px;font-size:15.2px;font-weight:700;color:#1A1C21;">actions</div>
<svg class="r" style="left:540px;top:961px;" width="16" height="14" viewBox="0 0 16 14"><line x1="8" y1="1" x2="8" y2="12.5" stroke="#1A1C21" stroke-width="1.4"/><polyline points="2.5,7 8,12.5 13.5,7" fill="none" stroke="#1A1C21" stroke-width="1.4"/></svg>
<div class="r" style="left:299px;top:982.5px;width:1224.5px;height:1.3px;background:#D3DAE6;"></div>
<svg class="r" style="left:311px;top:1042px;" width="14" height="19" viewBox="0 0 14 19"><polyline points="4,2 11,9.5 4,17" fill="none" stroke="#0B5CAD" stroke-width="1.6"/></svg>
<div class="t" style="left:344.50px;top:1033.21px;font-size:15.7px;font-weight:400;color:#343741;">February 13th</div>
<div class="t" style="left:344.50px;top:1055.01px;font-size:15.7px;font-weight:400;color:#343741;">2021, 12:00</div>
<div class="r" style="left:479.7px;top:1046.5px;width:10px;height:10px;border-radius:50%;background:#F0323E"></div>
<div class="t" style="left:499.70px;top:1043.91px;font-size:15.7px;font-weight:400;color:#343741;">98</div>
<div class="t" style="left:605.80px;top:1033.21px;font-size:15.7px;font-weight:400;color:#343741;">Event rate by</div>
<div class="t" style="left:605.80px;top:1055.01px;font-size:15.7px;font-weight:400;color:#343741;">response code</div>
<div class="t" style="left:737.00px;top:1043.91px;font-size:15.7px;font-weight:400;color:#343741;">404</div>
<div class="t" style="left:868.80px;top:990.71px;font-size:15.7px;font-weight:400;color:#343741;">clientip:</div>
<div class="t" style="left:868.80px;top:1012.91px;font-size:15.7px;font-weight:400;color:#343741;">30.156.16.164</div>
<svg class="r" style="left:873.0px;top:1038.8999999999999px;" width="14.8" height="14.8" viewBox="0 0 14.8 14.8"><circle cx="7.4" cy="7.4" r="6.4" fill="none" stroke="#B9CFE8" stroke-width="1.1"/><line x1="3.88" y1="7.4" x2="10.920000000000002" y2="7.4" stroke="#B9CFE8" stroke-width="1.2"/><line x1="7.4" y1="3.88" x2="7.4" y2="10.920000000000002" stroke="#B9CFE8" stroke-width="1.2"/></svg>
<svg class="r" style="left:898.5px;top:1038.8999999999999px;" width="14.8" height="14.8" viewBox="0 0 14.8 14.8"><circle cx="7.4" cy="7.4" r="6.4" fill="none" stroke="#B9CFE8" stroke-width="1.1"/><line x1="3.88" y1="7.4" x2="10.920000000000002" y2="7.4" stroke="#B9CFE8" stroke-width="1.2"/></svg>
<div class="t" style="left:868.80px;top:1066.01px;font-size:15.7px;font-weight:400;color:#343741;">response.keywor</div>
<div class="t" style="left:868.80px;top:1089.71px;font-size:15.7px;font-weight:400;color:#343741;">d: 404</div>
<svg class="r" style="left:917.3000000000001px;top:1090.6px;" width="14.8" height="14.8" viewBox="0 0 14.8 14.8"><circle cx="7.4" cy="7.4" r="6.4" fill="none" stroke="#B9CFE8" stroke-width="1.1"/><line x1="3.88" y1="7.4" x2="10.920000000000002" y2="7.4" stroke="#B9CFE8" stroke-width="1.2"/><line x1="7.4" y1="3.88" x2="7.4" y2="10.920000000000002" stroke="#B9CFE8" stroke-width="1.2"/></svg>
<svg class="r" style="left:942.4px;top:1090.6px;" width="14.8" height="14.8" viewBox="0 0 14.8 14.8"><circle cx="7.4" cy="7.4" r="6.4" fill="none" stroke="#B9CFE8" stroke-width="1.1"/><line x1="3.88" y1="7.4" x2="10.920000000000002" y2="7.4" stroke="#B9CFE8" stroke-width="1.2"/></svg>
<div class="t" style="left:1001.20px;top:1043.91px;font-size:15.7px;font-weight:400;color:#343741;">101</div>
<div class="t" style="left:1133.20px;top:1043.91px;font-size:15.7px;font-weight:400;color:#343741;">1.19</div>
<svg class="r" style="left:1265px;top:1044px;" width="12" height="14" viewBox="0 0 12 14"><line x1="6.5" y1="3.6" x2="6.5" y2="12.8" stroke="#343741" stroke-width="1.05"/><polyline points="3,7.1 6.5,3.6 10,7.1" fill="none" stroke="#343741" stroke-width="1.05"/></svg>
<div class="t" style="left:1289.80px;top:1043.83px;font-size:15.8px;font-weight:400;color:#343741;">85x higher</div>
<svg class="r" style="left:1400.7px;top:1040.6px;" width="22" height="22" viewBox="0 0 22 22"><polygon points="7.65,5.20 8.86,1.74 13.14,1.74 14.35,5.20 17.95,4.52 20.08,8.22 17.70,11.00 20.08,13.78 17.95,17.48 14.35,16.80 13.14,20.26 8.86,20.26 7.65,16.80 4.05,17.48 1.92,13.78 4.30,11.00 1.92,8.22 4.05,4.52" fill="none" stroke="#343741" stroke-width="1.45" stroke-linejoin="round"/><circle cx="11" cy="11" r="3.0" fill="none" stroke="#343741" stroke-width="1.45"/></svg>
<div class="r" style="left:299px;top:1119.6px;width:1224.5px;height:1.3px;background:#D3DAE6;"></div>
</body></html>
